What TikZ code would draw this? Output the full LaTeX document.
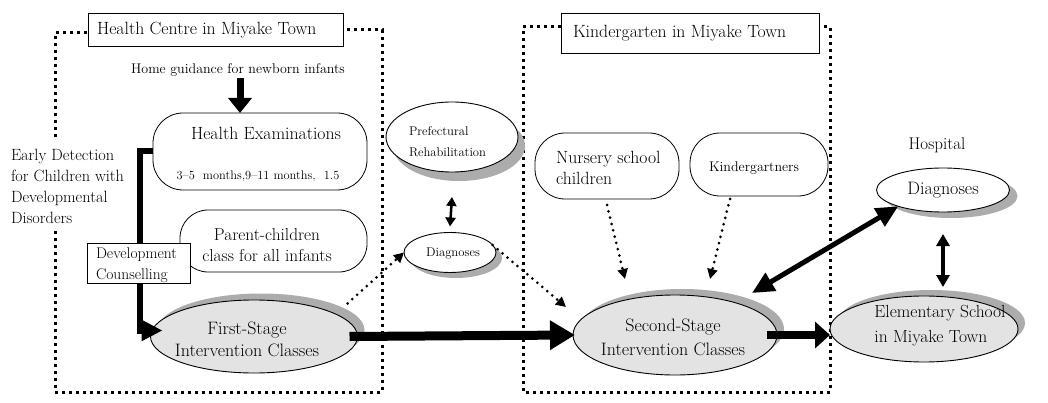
\documentclass[tikz,border=0pt]{standalone}
\usepackage{fontspec}
\usetikzlibrary{arrows.meta,shapes.geometric,calc}
\begin{document}
\begin{tikzpicture}[x=1pt,y=-1pt,
  every node/.style={inner sep=0pt,outer sep=0pt},
  frame/.style={line width=3pt,dash pattern=on 3pt off 4pt},
  titlebox/.style={draw,line width=0.8pt},
  rbox/.style={draw,line width=0.8pt,rounded corners=#1},
  rbox/.default=28pt,
  gell/.style={ellipse,draw,line width=0.9pt,fill=gray!22},
  gshad/.style={ellipse,fill=gray!65},
  well/.style={ellipse,draw,line width=0.9pt,fill=white},
  dotarrow/.style={line width=3pt,line cap=round,dash pattern=on 0pt off 6.5pt,
    -{Triangle[length=10pt,width=10pt]}},
  bigarrow/.style={line width=9pt,-{Triangle[length=25pt,width=28pt]}},
  midarrow/.style={line width=8pt,-{Triangle[length=15pt,width=26pt]}},
  dblarrow/.style={line width=5pt,{Triangle[length=22pt,width=20pt]}-{Triangle[length=22pt,width=20pt]}},
  smalldbl/.style={line width=3.5pt,{Triangle[length=12pt,width=13pt]}-{Triangle[length=12pt,width=13pt]}},
  tinydbl/.style={line width=2.5pt,{Triangle[length=9pt,width=10pt]}-{Triangle[length=9pt,width=10pt]}},
  downarrow/.style={line width=7pt,-{Triangle[length=15pt,width=23pt]}},
  lconn/.style={line width=6pt,-{Triangle[length=21pt,width=20pt]}},
  ttl/.style={font=\fontsize{17.7}{20}\selectfont,anchor=west},
  big/.style={font=\fontsize{18}{22}\selectfont,align=center},
]
\useasboundingbox (0,0) rectangle (1048,403);
\fill[white] (0,0) rectangle (1048,403);

% ---------- frames
\draw[frame] (55,137) -- (55,33) -- (87,33);
\draw[frame] (347,30) -- (382,30) -- (382,392) -- (55,392) -- (55,230);
\draw[frame] (561,27) -- (523,27) -- (523,392) -- (830,392) -- (830,27) -- (822,27);

% ---------- title boxes
\node[titlebox,minimum width=255pt,minimum height=33pt] (hc) at (215.5,29.5) {};
\node[ttl] (hcT) at (97,30) {Health Centre in Miyake Town};
\node[titlebox,minimum width=258pt,minimum height=40pt] (kb) at (690,33.5) {};
\node[ttl] (kbT) at (573,33) {Kindergarten in Miyake Town};

% ---------- left column
\node[font=\fontsize{14}{17}\selectfont] (hg) at (238,70) {Home guidance for newborn infants};
\node[rbox=30pt,minimum width=214pt,minimum height=77pt] (he) at (260,151.5) {};
\node[font=\fontsize{17.7}{20}\selectfont] (heT) at (266,133) {Health Examinations};
\node[font=\fontsize{12.4}{14}\selectfont] (heM) at (258,176) {3--5\ \ months,9--11 months,\ \ 1.5};
\node[font=\fontsize{16.3}{21}\selectfont,align=left,anchor=west] (ed) at (11,186) {Early Detection\\for Children with\\Developmental\\Disorders};
\node[rbox=28pt,minimum width=187pt,minimum height=62pt] (pc) at (273.5,241) {};
\node[font=\fontsize{17.3}{21}\selectfont,align=center] (pcT) at (267,245) {Parent-children\\class for all infants};

\node[gshad,minimum width=207pt,minimum height=73pt] (fsS) at (261,330) {};
\node[gell,minimum width=207pt,minimum height=73pt] (fs) at (254,336.5) {};

\draw[lconn] (he.west) -- ++(-13,0) |- ([xshift=12pt,yshift=6pt]fs.west);
\node[draw,line width=0.8pt,fill=white,minimum width=103pt,minimum height=40pt] (dc) at (138.5,263) {};
\node[font=\fontsize{15.5}{21}\selectfont,align=left,anchor=west] (dcT) at (96,265) {Development\\Counselling};

\draw[downarrow] (hg.south) ++(2,2) -- ($(hg.south |- he.north)+(2,0)$);

% ---------- middle column
\node[gshad,minimum width=132pt,minimum height=70pt] (prS) at (459,146) {};
\node[well,minimum width=132pt,minimum height=70pt] (pr) at (452,137) {};
\node[font=\fontsize{12.6}{21}\selectfont,align=left,anchor=west] (prT) at (409,142) {Prefectural\\Rehabilitation};

\node[gshad,minimum width=92pt,minimum height=40pt] (sdS) at (456,258) {};
\node[well,minimum width=92pt,minimum height=40pt] (sd) at (450,252.5) {};
\node[font=\fontsize{12.7}{14}\selectfont] (sdT) at (453,253) {Diagnoses};
\draw[tinydbl] ([yshift=-25pt]pr.south) -- ([yshift=6pt]sd.north);

% ---------- right column
\node[rbox=30pt,minimum width=144pt,minimum height=66pt] (ns) at (607,166) {};
\node[font=\fontsize{17.7}{21}\selectfont,align=left,anchor=west] (nsT) at (556,168) {Nursery school\\children};
\node[rbox=30pt,minimum width=138pt,minimum height=63pt] (kg) at (759,164.5) {};
\node[font=\fontsize{14}{16}\selectfont] (kgT) at (754,168) {Kindergartners};

\node[gshad,minimum width=204pt,minimum height=80pt] (ssS) at (682,329) {};
\node[gell,minimum width=204pt,minimum height=80pt] (ss) at (675,335) {};

\node[font=\fontsize{17}{19}\selectfont] (hoT) at (937,145) {Hospital};
\node[gshad,minimum width=133pt,minimum height=44pt] (hdS) at (951,196) {};
\node[well,minimum width=133pt,minimum height=44pt] (hd) at (943,190) {};
\node[font=\fontsize{18}{20}\selectfont] (hdT) at (943,190) {Diagnoses};

\node[gshad,minimum width=188pt,minimum height=66pt] (elS) at (931,323) {};
\node[gell,minimum width=188pt,minimum height=66pt] (el) at (924,329) {};

% ---------- connectors
\draw[dotarrow] ($(fs.east)+(-10,-33)$) -- (sd.west);
\draw[dotarrow] (sd.10) -- ($(ss.west)+(-7,-28)$);
\draw[dotarrow] ([yshift=-6pt]ns.south) -- ($(ss.north)+(-50,-16)$);
\draw[dotarrow] ($(kg.south)+(-29,3)$) -- ($(ss.north)+(35,-16)$);
\draw[bigarrow] ([xshift=-8pt]fs.east) -- ([xshift=2pt]ss.west);
\draw[midarrow] ([xshift=-10pt]ss.east) -- (ss.east -| el.west);
\draw[dblarrow] ($(ss.center)+(77,-42)$) -- (hd.200);
\draw[smalldbl] ([yshift=-22pt]hd.south) -- ([yshift=9pt]hd.south |- el.north);

% ---------- texts in ellipses
\node[big] (fsT) at (247,339) {First-Stage\\Intervention Classes};
\node[big,font=\fontsize{18}{24}\selectfont] (ssT) at (673,337) {Second-Stage\\Intervention Classes};
\node[big,font=\fontsize{17.5}{25}\selectfont,align=left] (elT) at (940,326) {Elementary School\\in Miyake Town};
\end{tikzpicture}
\end{document}
